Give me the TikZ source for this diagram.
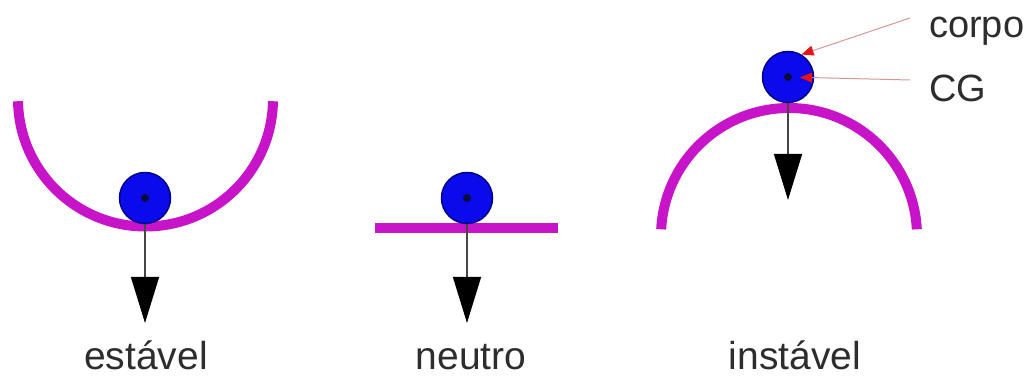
\documentclass[tikz,border=0pt]{standalone}
\usepackage{fontspec}
\setmainfont{Liberation Sans}
\usetikzlibrary{arrows.meta,calc}
\definecolor{surf}{RGB}{200,20,200}
\definecolor{ballblue}{RGB}{10,10,235}
\definecolor{ballrim}{RGB}{0,0,140}
\definecolor{txt}{RGB}{45,45,45}
\definecolor{pinkline}{RGB}{215,150,150}
\definecolor{tipred}{RGB}{230,20,20}
\definecolor{stem}{RGB}{70,70,70}
\definecolor{dotc}{RGB}{10,10,60}
\begin{document}
\begin{tikzpicture}[x=1pt,y=1pt,
  surface/.style={draw=surf,line width=10pt},
  ball/.style={circle,fill=ballblue,draw=ballrim,line width=1.5pt,minimum size=51pt,inner sep=0pt},
  cgdot/.style={circle,fill=dotc,minimum size=8pt,inner sep=0pt},
  weight/.style={draw=stem,line width=1.5pt,-{Triangle[width=28pt,length=46pt,color=black]}},
  lbl/.style={text=txt,font=\fontsize{39}{44}\selectfont,inner sep=0pt,anchor=base},
  side/.style={text=txt,font=\fontsize{38}{44}\selectfont,inner sep=0pt,anchor=base west},
  pointer/.style={draw=pinkline,line width=1pt,-{Triangle[width=10pt,length=12pt,color=tipred]}}]
\useasboundingbox (0,0) rectangle (1027,379);
% surfaces
\draw[surface] (145.5,280) ++(181:127.5) arc[start angle=181,end angle=359,radius=127.5];
\draw[surface] (375,151) -- (558,151);
\draw[surface] (789,143) ++(3:128) arc[start angle=3,end angle=177,radius=128];
% weight end points
\coordinate (t1) at (145,56);
\coordinate (t2) at (467,56);
\coordinate (t3) at (788,179);
% ball positions
\path (145,181) coordinate (p1) (467,181) coordinate (p2) (788,302) coordinate (p3);
\draw[weight] (p1) -- (t1);
\draw[weight] (p2) -- (t2);
\draw[weight] (p3) -- (t3);
\node[ball] (b1) at (p1) {};
\node[ball] (b2) at (p2) {};
\node[ball] (b3) at (p3) {};
\node[cgdot] (g1) at (b1.center) {};
\node[cgdot] (g2) at (b2.center) {};
\node[cgdot] (g3) at (b3.center) {};
% labels
\node[lbl] (l1) at (146,9) {estável};
\node[lbl] (l2) at (471,9) {neutro};
\node[lbl] (l3) at (795,9) {instável};
\node[side] (corpo) at (929,341) {corpo};
\node[side] (cg) at (929,277) {CG};
\coordinate (c1) at (910,361);
\coordinate (c2) at (910,299);
\draw[pointer] (c1) -- (b3.59);
\draw[pointer,shorten >=12pt] (c2) -- (g3.center);
\end{tikzpicture}
\end{document}
